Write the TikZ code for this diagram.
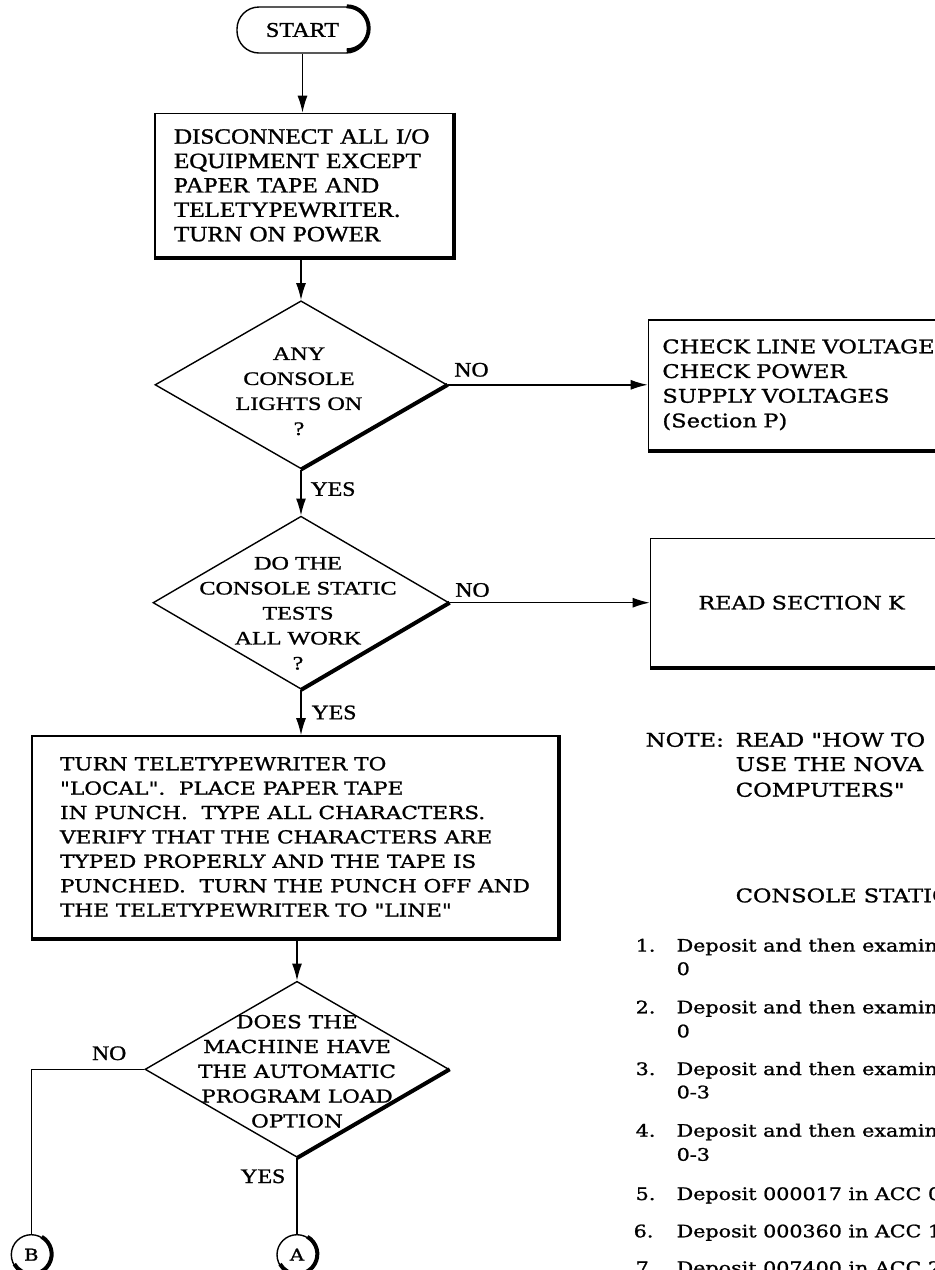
\documentclass[tikz,border=0pt]{standalone}
\usepackage{fontspec}
\usetikzlibrary{positioning,shapes.geometric,arrows.meta}
\newfontfamily\upfont{Liberation Serif}[FakeStretch=1.15,FakeBold=1.2]
\newfontfamily\diafont{Liberation Serif}[FakeStretch=1.27,FakeBold=1.2]
\newfontfamily\lowfont{DejaVu Serif}[FakeStretch=1.2,FakeBold=1.2]
\begin{document}
\begin{tikzpicture}[x=0.5pt,y=0.5pt,line width=0.7pt,every node/.style={inner sep=1pt}]
\tikzstyle{arrow}=[draw,-{Latex[length=8.5pt,width=5pt]}]
\tikzstyle{heavy}=[draw,line width=2pt]
\tikzstyle{box}=[draw,rectangle,align=left]
\tikzstyle{decision}=[draw,diamond,inner sep=0pt]
\tikzstyle{dtxt}=[align=center,inner sep=0pt,font=\diafont\fontsize{9.5}{12.5}\selectfont]
\tikzstyle{yesno}=[inner sep=0pt,font=\upfont\fontsize{10.3}{12}\selectfont]
\tikzstyle{conn}=[draw,circle,minimum size=20pt,inner sep=0pt,font=\lowfont\fontsize{8.2}{10}\selectfont]
\tikzstyle{notetxt}=[inner sep=0pt,anchor=base west,font=\lowfont\fontsize{9.5}{12}\selectfont]
\tikzstyle{itemtxt}=[inner sep=0pt,anchor=base west,font=\lowfont\fontsize{8.6}{11}\selectfont]

\useasboundingbox (0,0) rectangle (935,-1270);
\clip (0,0) rectangle (935,-1270);

% main column
\node[draw,rounded corners=11pt,minimum width=65.5pt,minimum height=23pt,font=\upfont\fontsize{10.5}{12}\selectfont](start) at (302.5,-30){START};
\node[box,below=29.5pt of start,xshift=0.75pt,text width=130pt,inner xsep=9.5pt,minimum height=72pt,font=\upfont\fontsize{10.9}{12.2}\selectfont](disc){DISCONNECT ALL I/O\\EQUIPMENT EXCEPT\\PAPER TAPE AND\\TELETYPEWRITER.\\TURN ON POWER};

\node[decision,below=21pt of disc,xshift=-1.5pt,minimum width=146pt,minimum height=84pt](lights){};
\node[dtxt,xshift=-1pt,yshift=-3.25pt](lightsT) at (lights){ANY\\CONSOLE\\LIGHTS ON\\?};

\node[decision,below=23pt of lights,minimum width=148pt,minimum height=86.5pt](static){};
\node[dtxt,xshift=-1.5pt,yshift=-5.3pt](staticT) at (static){DO THE\\CONSOLE STATIC\\TESTS\\ALL WORK\\?};

\node[box,below=22.65pt of static,xshift=-3pt,minimum width=263pt,minimum height=101pt,font=\lowfont\fontsize{9}{12.2}\selectfont](punch){TURN TELETYPEWRITER TO\\"LOCAL".\ \ PLACE PAPER TAPE\\IN PUNCH.\ \ TYPE ALL CHARACTERS.\\VERIFY THAT THE CHARACTERS ARE\\TYPED PROPERLY AND THE TAPE IS\\PUNCHED.\ \ TURN THE PUNCH OFF AND\\THE TELETYPEWRITER TO "LINE"};

\node[decision,below=21pt of punch,xshift=1pt,minimum width=152pt,minimum height=88pt](apl){};
\node[dtxt,font=\lowfont\fontsize{9}{12.4}\selectfont,yshift=-1pt](aplT) at (apl){DOES THE\\MACHINE HAVE\\THE AUTOMATIC\\PROGRAM LOAD\\OPTION};

\node[conn,below=38pt of apl](cA){A};
\node[conn](cB) at (punch.west |- cA){B};

% right column
\node[box,right=100pt of lights,text width=190pt,inner xsep=7pt,minimum height=65pt,font=\lowfont\fontsize{9.4}{12.35}\selectfont](volt){CHECK LINE VOLTAGE:\\CHECK POWER\\SUPPLY VOLTAGES\\(Section P)};
\node[box,right=100pt of static,text width=150pt,inner xsep=24pt,minimum height=64.5pt,font=\lowfont\fontsize{9.3}{12}\selectfont](secK){READ SECTION K};

% yes / no
\node[yesno,anchor=base west](no1) at ([shift={(6,8.3)}]lights.east){NO};
\node[yesno,anchor=base west](yes1) at ([shift={(9,-26.3)}]lights.south){YES};
\node[yesno,anchor=base west](no2) at ([shift={(5,6)}]static.east){NO};
\node[yesno,anchor=base west](yes2) at ([shift={(10,-29.3)}]static.south){YES};
\node[yesno,anchor=base east](no3) at ([shift={(-17.3,9.3)}]apl.west){NO};
\node[yesno,anchor=base east](yes3) at ([shift={(-11,-25)}]apl.south){YES};

% note and tests
\node[notetxt](note1) at (645,-746.7){\makebox[45pt][l]{NOTE:}READ "HOW TO};
\node[notetxt](note2) at (735,-771){USE THE NOVA};
\node[notetxt](note3) at (735,-796.7){COMPUTERS"};
\node[notetxt,font=\lowfont\fontsize{9.4}{12}\selectfont](head) at (735,-902.3){CONSOLE STATIC};

\node[itemtxt](i1) at (635,-951.6){\makebox[20.5pt][l]{1.}Deposit and then examine};
\node[itemtxt](i1b) at (676,-975){0};
\node[itemtxt](i2) at (635,-1013.3){\makebox[20.5pt][l]{2.}Deposit and then examine};
\node[itemtxt](i2b) at (676,-1037.3){0};
\node[itemtxt](i3) at (635,-1075){\makebox[20.5pt][l]{3.}Deposit and then examine};
\node[itemtxt](i3b) at (676,-1098.3){0-3};
\node[itemtxt](i4) at (635,-1136.7){\makebox[20.5pt][l]{4.}Deposit and then examine};
\node[itemtxt](i4b) at (676,-1160.7){0-3};
\node[itemtxt](i5) at (635,-1200){\makebox[20.5pt][l]{5.}Deposit 000017 in ACC 0};
\node[itemtxt](i6) at (633,-1237.3){\makebox[21.5pt][l]{6.}Deposit 000360 in ACC 1};
\node[itemtxt](i7) at (635,-1274){\makebox[20.5pt][l]{7.}Deposit 007400 in ACC 2};

% connectors
\path[arrow](start.south)--(start.south |- disc.north);
\path[arrow](lights.north |- disc.south)--(lights.north);
\path[arrow](lights.east)--(lights.east -| volt.west);
\path[arrow](lights.south)--(lights.south |- static.north);
\path[arrow](static.east)--(static.east -| secK.west);
\path[arrow](static.south)--(static.south |- punch.north);
\path[arrow](apl.north |- punch.south)--(apl.north);
\path[draw](apl.west)-|(cB.north);
\path[draw](apl.south)--(cA.north);

% shadows
\path[heavy]([xshift=-11pt]start.north east) arc[start angle=90,end angle=-90,radius=11pt];
\path[heavy](disc.north east)--(disc.south east)--(disc.south west);
\path[heavy](lights.east)--(lights.south);
\path[heavy](static.east)--(static.south);
\path[heavy](volt.north east)--(volt.south east)--(volt.south west);
\path[heavy](secK.north east)--(secK.south east)--(secK.south west);
\path[heavy](punch.north east)--(punch.south east)--(punch.south west);
\path[heavy](apl.east)--(apl.south);
\path[heavy](cA.60) arc[start angle=60,end angle=-150,radius=10pt];
\path[heavy](cB.60) arc[start angle=60,end angle=-150,radius=10pt];
\end{tikzpicture}
\end{document}
